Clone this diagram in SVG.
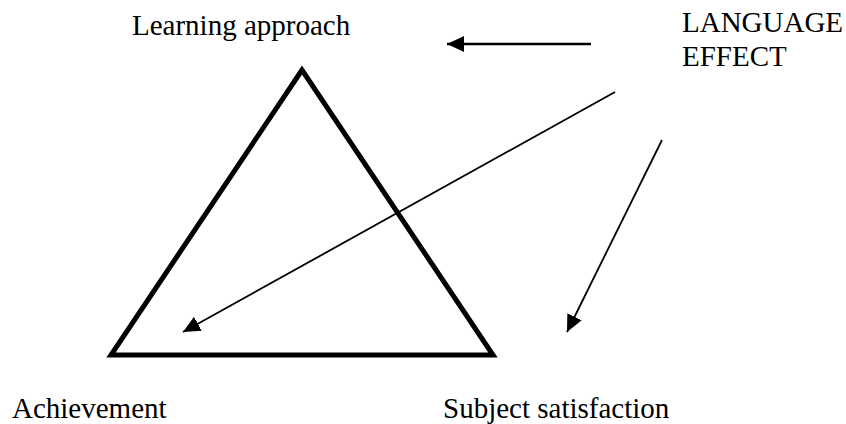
<svg xmlns="http://www.w3.org/2000/svg" width="846" height="424" viewBox="0 0 846 424">
<defs>
<style>
text{font-family:"Liberation Serif","Times New Roman",serif;font-size:29px;fill:#000}
.arr{stroke:#000;fill:none}
</style>
<marker id="ah" markerUnits="userSpaceOnUse" markerWidth="18" markerHeight="16" refX="17" refY="8" orient="auto"><path d="M0,0 L17,8 L0,16 Z" fill="#000"/></marker>
</defs>
<rect width="846" height="424" fill="#fff"/>
<g id="triangle"><polygon points="302,70 111,355 493,355" fill="none" stroke="#000" stroke-width="5" stroke-linejoin="miter"/></g>
<g id="learning"><text x="132" y="35">Learning approach</text></g>
<g id="language"><text x="682" y="32">LANGUAGE</text><text x="682" y="66">EFFECT</text></g>
<g id="achievement"><text x="12" y="418">Achievement</text></g>
<g id="satisfaction"><text x="443" y="418">Subject satisfaction</text></g>
<g id="connectors">
<line class="arr" x1="591" y1="44" x2="447" y2="44" stroke-width="2.5" marker-end="url(#ah)"/>
<line class="arr" x1="615" y1="92" x2="183" y2="332" stroke-width="1.8" marker-end="url(#ah)"/>
<line class="arr" x1="662" y1="140" x2="567" y2="332" stroke-width="1.8" marker-end="url(#ah)"/>
</g>
</svg>
